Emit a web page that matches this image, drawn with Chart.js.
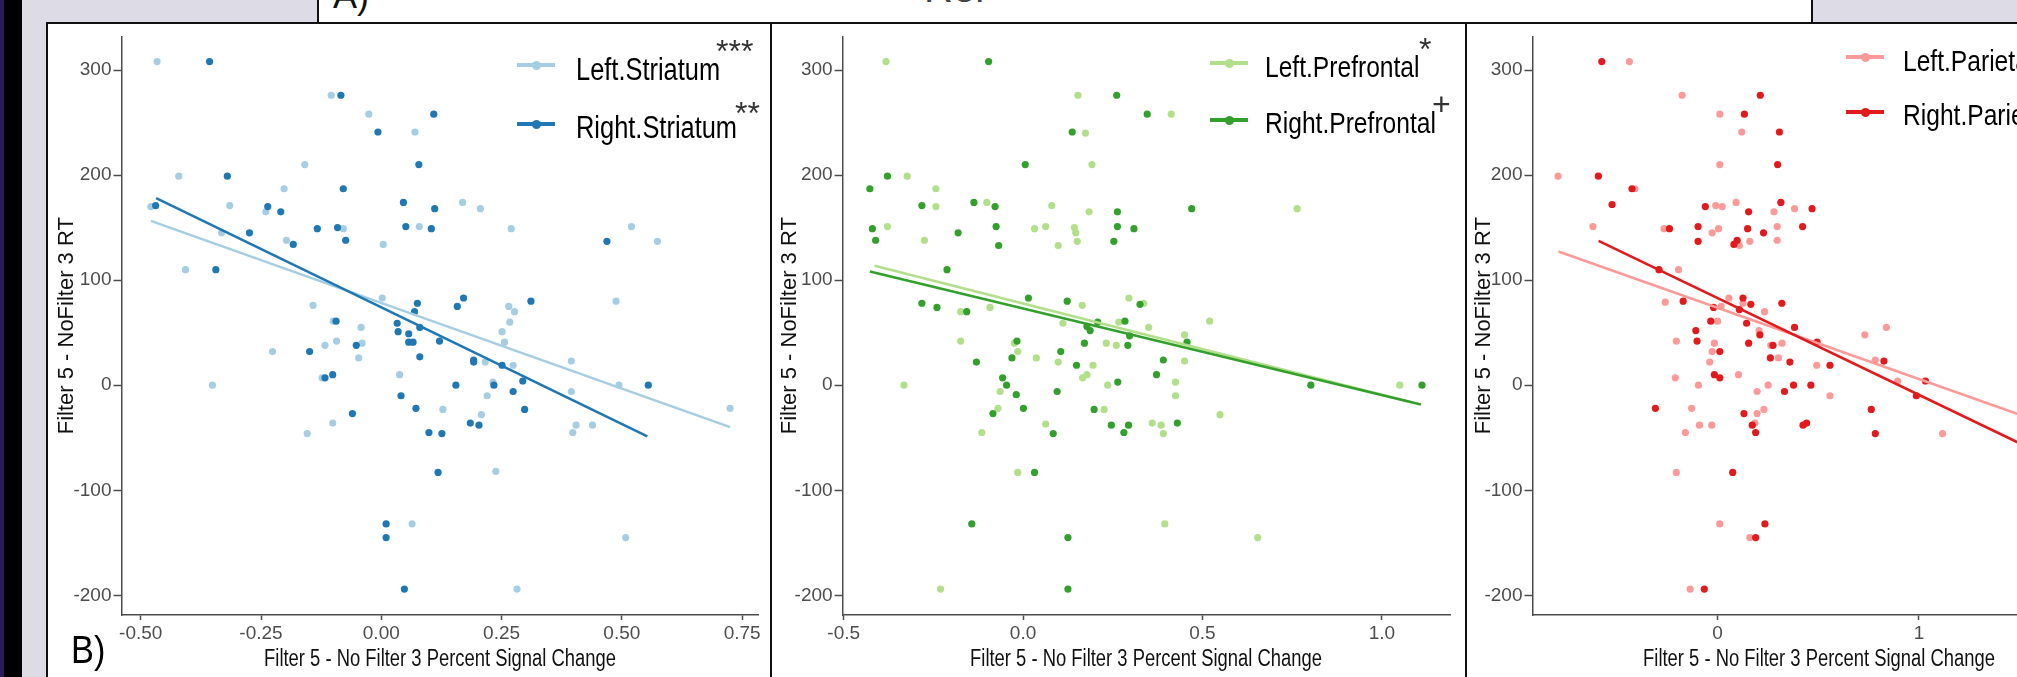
<!DOCTYPE html>
<html>
<head>
<meta charset="utf-8">
<script src="https://cdn.jsdelivr.net/npm/chart.js@4.4.1/dist/chart.umd.min.js"></script>
<style>
  html, body { margin: 0; padding: 0; }
  body { width: 2017px; height: 677px; overflow: hidden; position: relative; background: #fff;
         font-family: 'Liberation Sans', Arial, sans-serif; }
  .abs { position: absolute; }
  .panel { position: absolute; top: 23px; height: 654px; }
  .vline { position: absolute; top: 23px; height: 654px; width: 2px; background: #111; }
  .lbl { position: absolute; line-height: 1; white-space: nowrap; color: #111; }
  .squeeze { transform: scaleX(0.82); transform-origin: 0 0; }
  .xtitle { position: absolute; line-height: 1; white-space: nowrap; color: #111; font-size: 23px;
            transform: translateX(-50%) scaleX(0.8); }
</style>
</head>
<body>

<!-- slide chrome -->
<div class="abs" style="left:0;top:0;width:4px;height:677px;background:#2b1a5e"></div>
<div class="abs" style="left:4px;top:0;width:18px;height:677px;background:#000"></div>
<div class="abs" style="left:22px;top:0;width:25px;height:677px;background:#dcdbe6"></div>
<div class="abs" style="left:22px;top:0;width:296px;height:23px;background:#dcdbe6"></div>
<div class="abs" style="left:1812px;top:0;width:205px;height:23px;background:#dcdbe6"></div>
<div class="abs" style="left:317px;top:0;width:2px;height:23px;background:#111"></div>
<div class="abs" style="left:1811px;top:0;width:2px;height:23px;background:#111"></div>
<div class="lbl" style="left:333px;top:-22px;font-size:36px">A)</div>
<div class="lbl" style="left:924px;top:-32px;font-size:40px;color:#444">Rel</div>

<div class="panel" style="left:46px;width:725px"><canvas id="c1" width="725" height="654"></canvas></div>
<div class="panel" style="left:771px;width:694px"><canvas id="c2" width="694" height="654"></canvas></div>
<div class="panel" style="left:1466px;width:694px"><canvas id="c3" width="694" height="654"></canvas></div>

<div class="abs" style="left:46px;top:22px;width:1971px;height:2px;background:#111"></div>
<div class="vline" style="left:46px"></div>
<div class="vline" style="left:770px"></div>
<div class="vline" style="left:1465px"></div>
<div class="lbl squeeze" style="left:71px;top:630px;font-size:39px;color:#000;transform:scaleX(0.88)">B)</div>

<div id="overlay"></div>

<script>
// ---- data ----
const yTicks = [-200, -100, 0, 100, 200, 300];
const yTitle = 'Filter 5 - NoFilter 3 RT';
const xTitle = 'Filter 5 - No Filter 3 Percent Signal Change';

// panel 1: striatum
const xTicks1 = [-0.5, -0.25, 0, 0.25, 0.5, 0.75];
const xTickLabels1 = ['-0.50', '-0.25', '0.00', '0.25', '0.50', '0.75'];
const striatumLeftX = [-0.466,-0.104,-0.026,0.070,-0.159,-0.421,-0.202,-0.479,-0.315,-0.240,0.169,0.206,-0.079,0.079,0.270,0.520,-0.332,-0.197,0.004,0.574,-0.407,0.002,0.488,-0.142,0.265,0.277,-0.100,-0.042,0.267,0.251,
  -0.226,-0.117,-0.093,-0.040,-0.047,0.256,0.216,0.274,0.395,0.038,-0.123,-0.351,0.232,0.494,0.395,0.220,0.128,0.725,0.208,-0.101,0.405,0.439,0.398,-0.154,0.238,0.064,0.508,0.282];
const striatumLeftY = [308,276,258,241,210,199,187,170,171,165,174,168,149,151,149,151,145,138,134,137,110,83,80,76,75,70,61,55,60,51,
  32,38,42,40,26,41,22,19,23,10,7,0,3,0,-6,-10,-23,-22,-28,-36,-38,-38,-45,-46,-82,-132,-145,-194];
const striatumRightX = [-0.357,-0.084,0.109,-0.007,0.078,-0.320,-0.079,0.046,-0.469,-0.236,-0.209,0.111,-0.133,-0.091,0.051,0.104,-0.274,-0.074,0.469,-0.183,-0.344,0.311,0.075,0.171,0.158,0.069,-0.094,0.033,0.080,0.035,0.057,
  0.057,0.066,0.121,-0.052,-0.149,0.080,0.192,0.192,0.251,-0.101,-0.117,0.294,0.155,0.234,0.555,0.041,0.274,0.072,0.298,-0.060,0.185,0.203,0.099,0.126,0.118,0.010,0.010,0.048];
const striatumRightY = [308,276,258,241,210,199,187,174,171,170,165,168,149,150,151,149,145,138,137,134,110,80,78,83,75,70,61,59,55,51,49,
  41,41,42,38,32,27,24,22,19,10,7,4,0,0,0,-10,-6,-22,-23,-27,-36,-38,-45,-46,-83,-132,-145,-194];
const striatumFitLeft = [[-0.479, 156.4], [0.725, -39.9]];
const striatumFitRight = [[-0.468, 178.0], [0.553, -48.7]];

// panel 2: prefrontal
const xTicks2 = [-0.5, 0, 0.5, 1.0];
const xTickLabels2 = ['-0.5', '0.0', '0.5', '1.0'];
const prefrontalLeftX = [-0.382,0.153,0.413,0.174,0.192,-0.323,-0.243,-0.243,-0.101,0.080,0.764,0.184,-0.378,0.032,0.063,0.143,0.147,-0.275,0.151,0.098,-0.174,-0.092,0.165,0.295,0.336,0.111,0.350,0.450,0.520,0.267,
  -0.174,-0.332,-0.024,-0.015,0.037,0.098,0.195,0.178,0.166,0.236,-0.064,-0.070,0.226,-0.115,0.063,0.232,0.260,0.360,0.385,0.391,0.425,0.425,0.450,0.549,1.050,-0.015,0.395,0.654,-0.230];
const prefrontalLeftY = [308,276,258,240,210,199,187,170,174,171,168,165,151,149,151,150,145,138,137,133,70,74,76,83,78,59,55,48,61,60,
  42,0,40,32,26,22,19,10,7,0,-6,-22,-23,-45,-37,40,38,-36,-38,-46,3,-10,23,-28,0,-83,-132,-145,-194];
const prefrontalRightX = [-0.096,0.261,0.346,0.137,0.006,-0.378,-0.427,-0.282,-0.137,-0.078,0.470,0.263,-0.420,-0.075,0.263,0.309,-0.411,-0.181,-0.068,0.253,-0.212,-0.282,-0.240,-0.157,0.015,0.123,0.326,0.284,0.208,0.178,0.187,
  -0.017,0.171,0.292,0.297,0.457,0.391,0.105,-0.031,-0.130,0.149,-0.057,0.372,-0.046,0.264,0.802,1.112,-0.019,0.095,0.001,0.198,-0.084,0.246,0.294,0.430,0.084,0.281,0.032,-0.143,0.125,0.125];
const prefrontalRightY = [308,276,258,241,210,199,187,171,174,170,168,165,149,151,151,149,138,145,133,137,110,78,74,70,83,80,77,61,60,56,52,
  42,40,38,47,41,24,32,26,22,19,7,10,0,3,0,0,-9,-6,-22,-23,-27,-38,-38,-36,-46,-45,-83,-132,-145,-194];
const prefrontalFitLeft = [[-0.414, 113.6], [1.083, -16.1]];
const prefrontalFitRight = [[-0.427, 108.2], [1.109, -18.4]];

// panel 3: parietal
const xTicks3 = [0, 1];
const xTickLabels3 = ['0', '1'];
const parietalLeftX = [-0.438,-0.176,0.011,0.120,0.011,-0.792,-0.411,-0.009,0.023,0.092,0.280,0.382,-0.619,-0.266,0.005,0.296,-0.027,0.108,0.160,0.296,-0.194,-0.260,0.056,0.000,0.126,0.233,0.018,0.206,0.731,0.838,
  -0.205,-0.016,-0.027,-0.039,-0.210,-0.095,0.104,0.264,0.320,0.302,0.251,0.196,0.492,0.783,0.894,0.558,-0.129,0.230,0.196,0.185,-0.090,-0.029,-0.160,1.117,-0.205,0.011,0.160,-0.136];
const parietalLeftY = [308,276,258,241,210,199,187,171,170,174,165,168,151,149,149,151,145,133,137,138,110,79,83,61,78,70,75,52,48,55,
  42,40,32,22,7,0,10,38,40,26,0,-6,19,24,4,-10,-22,-23,-27,-36,-38,-38,-45,-46,-83,-132,-145,-194];
const parietalRightX = [-0.575,0.212,0.133,0.307,0.298,-0.592,-0.425,-0.524,-0.061,0.314,0.469,0.154,-0.239,-0.097,0.149,0.422,0.228,-0.097,0.097,0.081,-0.291,-0.171,-0.020,0.126,0.165,0.319,0.108,-0.034,0.144,0.210,0.382,-0.108,
  -0.102,0.011,-0.016,0.011,0.154,0.275,0.262,0.359,0.494,0.558,0.826,1.032,0.987,0.377,0.463,0.332,-0.309,0.763,0.131,0.172,0.189,0.424,0.442,0.783,0.075,0.235,0.189,-0.066];
const parietalRightY = [308,276,258,241,210,199,187,172,170,174,168,165,149,151,149,151,145,137,138,134,110,80,74,83,77,78,72,61,59,48,55,52,
  42,32,10,7,40,38,26,22,41,19,23,4,-10,0,0,-6,-22,-23,-27,-38,-45,-38,-36,-46,-83,-132,-145,-194];
const parietalFitLeft = [[-0.790, 127.3], [1.75, -45.0]];
const parietalFitRight = [[-0.591, 137.4], [1.75, -78.3]];

const colors = {
  striatum: ['#a6cee3', '#1f78b4'],
  prefrontal: ['#b2df8a', '#33a02c'],
  parietal: ['#fb9a99', '#e31a1c']
};
const legendLabels = {
  striatum: ['Left.Striatum', 'Right.Striatum'],
  prefrontal: ['Left.Prefrontal', 'Right.Prefrontal'],
  parietal: ['Left.Parietal', 'Right.Parietal']
};
const sigMarks = {
  striatum: ['***', '**'],
  prefrontal: ['*', '+'],
  parietal: ['', '']
};

// ---- helpers ----
const toPoints = (xs, ys) => xs.map((x, i) => ({ x: x, y: ys[i] }));
const fitPoints = (f) => f.map(p => ({ x: p[0], y: p[1] }));
const SANS = "'Liberation Sans', Arial, sans-serif";
const overlay = document.getElementById('overlay');

function addLabel(text, css, cls) {
  const d = document.createElement('div');
  d.className = cls || 'lbl';
  d.style.cssText = css;
  d.textContent = text;
  overlay.appendChild(d);
  return d;
}

function makePanel(id, cfg) {
  const [light, dark] = cfg.colors;
  const chart = new Chart(document.getElementById(id), {
    type: 'scatter',
    data: {
      datasets: [
        { data: fitPoints(cfg.fitRight), showLine: true, borderColor: dark, borderWidth: 2.6, pointRadius: 0, fill: false },
        { data: fitPoints(cfg.fitLeft), showLine: true, borderColor: light, borderWidth: 2.6, pointRadius: 0, fill: false },
        { data: toPoints(cfg.rightX, cfg.rightY), backgroundColor: dark, borderWidth: 0, pointRadius: 3.6 },
        { data: toPoints(cfg.leftX, cfg.leftY), backgroundColor: light, borderWidth: 0, pointRadius: 3.6 }
      ]
    },
    options: {
      responsive: false,
      animation: false,
      events: [],
      layout: { padding: { top: 12, right: cfg.padRight, left: 0, bottom: 0 } },
      plugins: { legend: { display: false }, tooltip: { enabled: false } },
      scales: {
        x: {
          type: 'linear',
          min: cfg.xRange[0], max: cfg.xRange[1],
          afterBuildTicks: s => { s.ticks = cfg.xTicks.map(v => ({ value: v })); },
          afterFit: s => { s.height = 62; },
          grid: { drawOnChartArea: false, drawTicks: true, tickLength: 5, tickColor: '#4d4d4d', tickWidth: 1.5 },
          border: { display: true, color: '#4d4d4d', width: 1.5 },
          ticks: {
            color: '#4d4d4d', padding: 2, maxRotation: 0, autoSkip: false,
            font: { family: SANS, size: 19 },
            callback: (v, i) => cfg.xTickLabels[i]
          },
          title: { display: false }
        },
        y: {
          type: 'linear',
          min: -218.7, max: 332,
          afterBuildTicks: s => { s.ticks = yTicks.map(v => ({ value: v })); },
          afterFit: s => { s.width = cfg.yAxisW; },
          grid: { drawOnChartArea: false, drawTicks: true, tickLength: 8, tickColor: '#4d4d4d', tickWidth: 1.5 },
          border: { display: true, color: '#4d4d4d', width: 1.5 },
          ticks: { color: '#4d4d4d', padding: 2, font: { family: SANS, size: 19 } },
          title: { display: true, text: yTitle, color: '#111', font: { family: SANS, size: 22 }, padding: { top: cfg.yTitlePad, bottom: 0 } }
        }
      }
    }
  });
  // x axis title centred under the plotting area (narrow lettering like the reference)
  const ca = chart.chartArea;
  addLabel(xTitle, `left:${cfg.left + (ca.left + ca.right) / 2}px;top:647px`, 'xtitle');
}

makePanel('c1', {
  left: 46, colors: colors.striatum, leftX: striatumLeftX, leftY: striatumLeftY, rightX: striatumRightX, rightY: striatumRightY,
  fitLeft: striatumFitLeft, fitRight: striatumFitRight, xTicks: xTicks1, xTickLabels: xTickLabels1,
  xRange: [-0.54, 0.783], yAxisW: 75.5, padRight: 13, yTitlePad: 8
});
makePanel('c2', {
  left: 771, colors: colors.prefrontal, leftX: prefrontalLeftX, leftY: prefrontalLeftY, rightX: prefrontalRightX, rightY: prefrontalRightY,
  fitLeft: prefrontalFitLeft, fitRight: prefrontalFitRight, xTicks: xTicks2, xTickLabels: xTickLabels2,
  xRange: [-0.503, 1.19], yAxisW: 71.6, padRight: 15, yTitlePad: 6
});
makePanel('c3', {
  left: 1466, colors: colors.parietal, leftX: parietalLeftX, leftY: parietalLeftY, rightX: parietalRightX, rightY: parietalRightY,
  fitLeft: parietalFitLeft, fitRight: parietalFitRight, xTicks: xTicks3, xTickLabels: xTickLabels3,
  xRange: [-0.919, 1.926], yAxisW: 66.5, padRight: 54.5, yTitlePad: 4.5
});

// ---- legends (html overlay) ----
const legendBoxes = [
  { key: 'striatum', swatchX: 517, textX: 576, font: 31, rows: [{ y: 65, base: 80, starX: 716, starY: 43 }, { y: 124, base: 138, starX: 735, starY: 105 }] },
  { key: 'prefrontal', swatchX: 1210, textX: 1265, font: 30, rows: [{ y: 63, base: 77, starX: 1419, starY: 41 }, { y: 120, base: 133, starX: 1432, starY: 96 }] },
  { key: 'parietal', swatchX: 1846, textX: 1903, font: 30, rows: [{ y: 57, base: 71 }, { y: 112, base: 125 }] }
];
legendBoxes.forEach(box => {
  box.rows.forEach((row, i) => {
    const col = colors[box.key][i];
    addLabel('', `left:${box.swatchX}px;top:${row.y - 2}px;width:38px;height:4px;background:${col}`, 'abs');
    addLabel('', `left:${box.swatchX + 14.5}px;top:${row.y - 4.5}px;width:9px;height:9px;border-radius:50%;background:${col}`, 'abs');
    addLabel(legendLabels[box.key][i], `left:${box.textX}px;top:${row.base - 0.847 * box.font}px;font-size:${box.font}px;color:#000`, 'lbl squeeze');
    const mark = sigMarks[box.key][i];
    if (mark) {
      addLabel(mark, `left:${row.starX}px;top:${row.starY + 18.6 - 27.1}px;font-size:32px;color:#333`);
    }
  });
});
</script>
</body>
</html>
